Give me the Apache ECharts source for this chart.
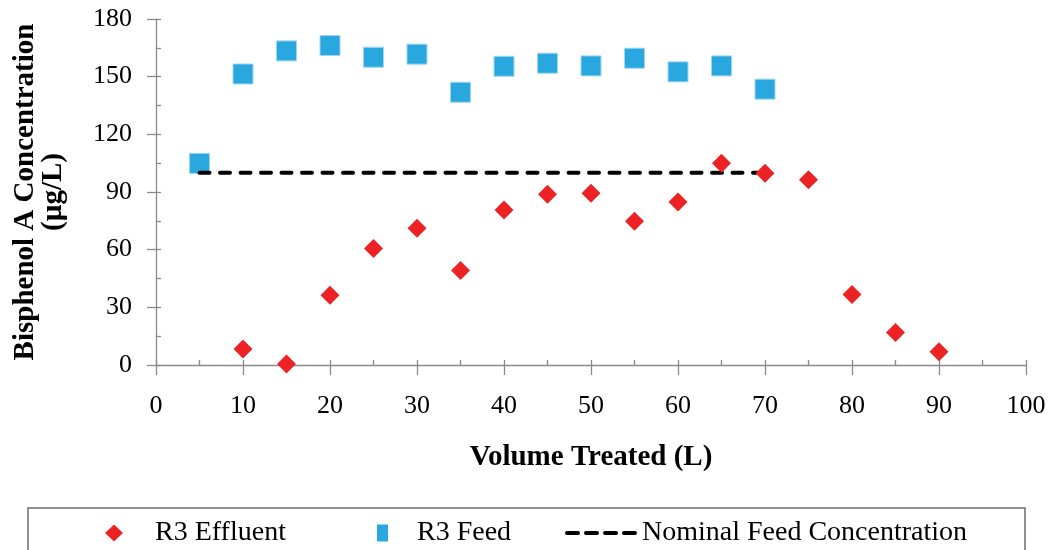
<!DOCTYPE html>
<html>
<head>
    <meta charset="utf-8">
    <title>Bisphenol A</title>
    <script src="https://cdn.jsdelivr.net/npm/echarts@6/dist/echarts.min.js"></script>
</head>
<body style="margin:0">
    <div id="main" style="width:1060px;height:550px;"></div>
    <script type="text/javascript">
        // values
        var xEffluent = [10, 15, 20, 25, 30, 35, 40, 45, 50, 55, 60, 65, 70, 75, 80, 85, 90];
        var effluent = [8.3, 0.5, 36.3, 60.6, 71.1, 49.1, 80.6, 88.8, 89.3, 74.8, 84.8, 104.9, 99.7, 96.4, 36.7, 16.9, 6.9];
        var xFeed = [5, 10, 15, 20, 25, 30, 35, 40, 45, 50, 55, 60, 65, 70];
        var feed = [104.9, 151.4, 163.4, 166.2, 160.1, 161.7, 141.9, 155.4, 157.0, 155.6, 159.6, 152.5, 155.6, 143.5];
        var xNominal = [5, 70];
        var nominal = [100, 100];

        var seriesNames = ['R3 Effluent', 'R3 Feed', 'Nominal Feed Concentration'];

        function pairs(xs, ys) {
            var out = [];
            for (var i = 0; i < xs.length; i++) {
                out.push([xs[i], ys[i]]);
            }
            return out;
        }

        var font = "'Liberation Serif', 'Times New Roman', serif";
        var axisGray = '#8a8a8a';

        var myChart = echarts.init(document.getElementById('main'));

        var option = {
            animation: false,
            textStyle: { fontFamily: font },
            grid: { left: 156, right: 34, top: 19, bottom: 185 },
            xAxis: [
                {
                    type: 'value', min: 0, max: 100, interval: 10,
                    position: 'bottom',
                    name: 'Volume Treated (L)',
                    nameLocation: 'middle',
                    nameGap: 78,
                    nameTextStyle: { fontFamily: font, fontWeight: 'bold', fontSize: 29, color: '#000' },
                    axisLine: { lineStyle: { color: axisGray, width: 1.3 } },
                    axisTick: { length: 10, lineStyle: { color: axisGray, width: 1.3 } },
                    axisLabel: { fontFamily: font, fontSize: 26, color: '#000', margin: 28 },
                    splitLine: { show: false }
                },
                {
                    // inner half of the crossing ticks + minor ticks
                    type: 'value', min: 0, max: 100, interval: 10,
                    position: 'bottom',
                    axisLine: { show: false },
                    axisTick: { inside: true, length: 5, lineStyle: { color: axisGray, width: 1.3 } },
                    minorTick: { show: true, splitNumber: 2, length: 5, lineStyle: { color: axisGray, width: 1.3 } },
                    axisLabel: { show: false },
                    splitLine: { show: false }
                }
            ],
            yAxis: [
                {
                    type: 'value', min: 0, max: 180, interval: 30,
                    position: 'left',
                    name: 'Bisphenol A Concentration\n(µg/L)',
                    nameLocation: 'middle',
                    nameGap: 88,
                    nameTextStyle: { fontFamily: font, fontWeight: 'bold', fontSize: 29, lineHeight: 28, color: '#000', align: 'center' },
                    axisLine: { lineStyle: { color: axisGray, width: 1.3 } },
                    axisTick: { length: 9, lineStyle: { color: axisGray, width: 1.3 } },
                    axisLabel: { fontFamily: font, fontSize: 26, color: '#000', margin: 24 },
                    splitLine: { show: false }
                },
                {
                    type: 'value', min: 0, max: 180, interval: 30,
                    position: 'left',
                    axisLine: { show: false },
                    axisTick: { inside: true, length: 5, lineStyle: { color: axisGray, width: 1.3 } },
                    minorTick: { show: true, splitNumber: 2, length: 5, lineStyle: { color: axisGray, width: 1.3 } },
                    axisLabel: { show: false },
                    splitLine: { show: false }
                }
            ],
            legend: [
                {
                    data: [seriesNames[0]],
                    left: 105, top: 519, padding: 0,
                    itemWidth: 18, itemHeight: 17,
                    textStyle: { fontFamily: font, fontSize: 28, color: '#000', padding: [0, 0, 0, 27] }
                },
                {
                    data: [seriesNames[1]],
                    left: 377, top: 519, padding: 0,
                    itemWidth: 11, itemHeight: 17,
                    itemStyle: { borderWidth: 0 },
                    textStyle: { fontFamily: font, fontSize: 28, color: '#000', padding: [0, 0, 0, 24] }
                },
                {
                    data: [seriesNames[2]],
                    left: 565, top: 519, padding: 0,
                    itemWidth: 70, itemHeight: 17,
                    itemStyle: { opacity: 0 },
                    lineStyle: { type: [11, 8], width: 4, cap: 'round', color: '#000' },
                    textStyle: { fontFamily: font, fontSize: 28, color: '#000' }
                }
            ],
            graphic: [
                {
                    type: 'rect',
                    shape: { x: 28, y: 508, width: 997, height: 60 },
                    style: { fill: 'none', stroke: '#6e6e6e', lineWidth: 1.5 },
                    silent: true
                }
            ],
            series: [
                {
                    name: seriesNames[1],
                    type: 'scatter',
                    symbol: 'rect',
                    symbolSize: 20,
                    itemStyle: { color: '#29a8e0', borderColor: '#9ed6f1', borderWidth: 1, opacity: 1 },
                    data: pairs(xFeed, feed),
                    z: 2
                },
                {
                    name: seriesNames[2],
                    type: 'line',
                    symbol: 'none',
                    lineStyle: { color: '#000', width: 4, type: [10, 10.5], cap: 'round' },
                    itemStyle: { color: '#000' },
                    data: pairs(xNominal, nominal),
                    z: 3
                },
                {
                    name: seriesNames[0],
                    type: 'scatter',
                    symbol: 'diamond',
                    symbolSize: 19,
                    itemStyle: { color: '#ed2224', opacity: 1 },
                    data: pairs(xEffluent, effluent),
                    z: 4
                }
            ]
        };

        myChart.setOption(option);
    </script>
</body>
</html>
